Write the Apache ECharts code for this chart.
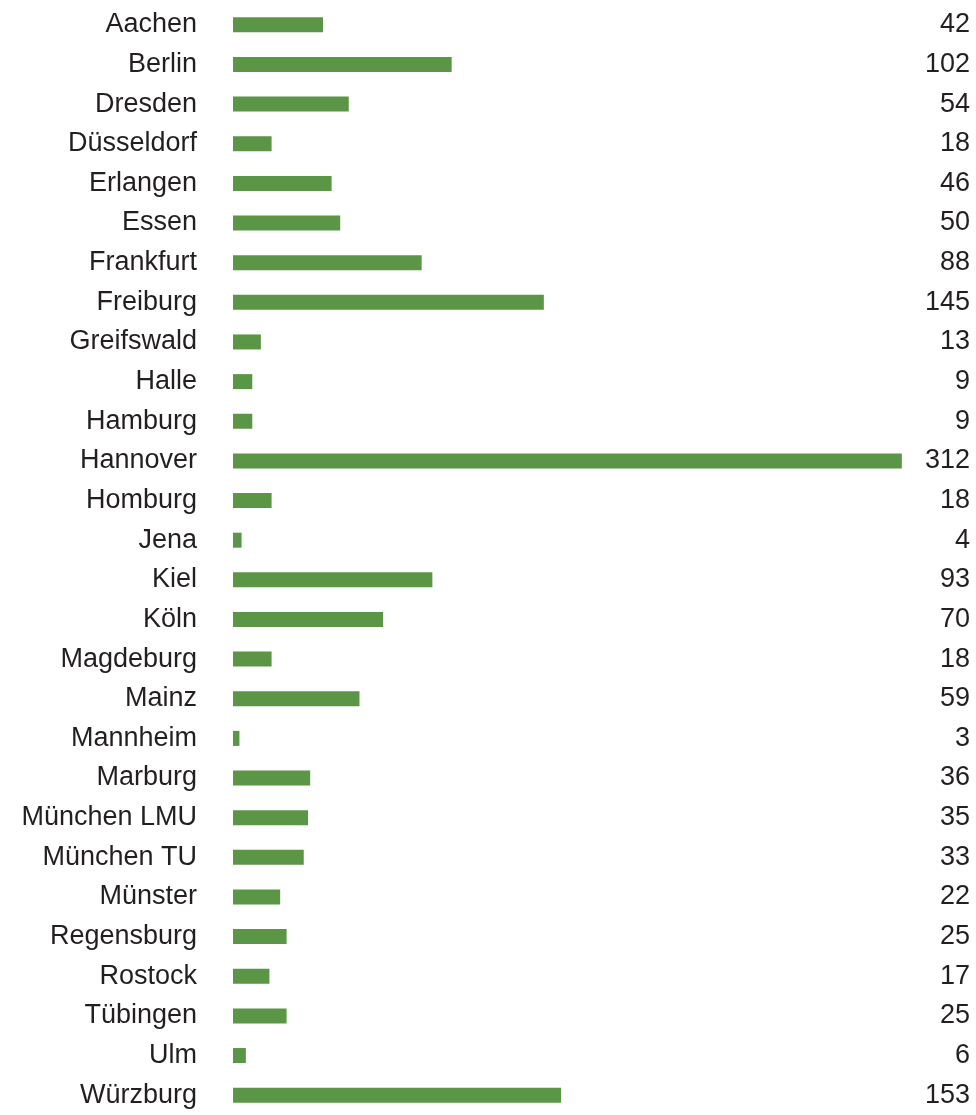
<!DOCTYPE html>
<html>
<head>
<meta charset="utf-8">
<script src="https://cdn.jsdelivr.net/npm/echarts@6/dist/echarts.min.js"></script>
<style>
  html, body { margin: 0; padding: 0; background: #fff; }
  #chart { width: 976px; height: 1115px; }
</style>
</head>
<body>
<div id="chart"></div>
<script>
const cities = [
  "Aachen", "Berlin", "Dresden", "Düsseldorf", "Erlangen", "Essen", "Frankfurt",
  "Freiburg", "Greifswald", "Halle", "Hamburg", "Hannover", "Homburg", "Jena",
  "Kiel", "Köln", "Magdeburg", "Mainz", "Mannheim", "Marburg", "München LMU",
  "München TU", "Münster", "Regensburg", "Rostock", "Tübingen", "Ulm", "Würzburg"
];
const counts = [
  42, 102, 54, 18, 46, 50, 88,
  145, 13, 9, 9, 312, 18, 4,
  93, 70, 18, 59, 3, 36, 35,
  33, 22, 25, 17, 25, 6, 153
];

const chart = echarts.init(document.getElementById("chart"));

const labelStyle = {
  fontFamily: "Liberation Sans, Arial, sans-serif",
  fontSize: 27,
  color: "#231f20",
  padding: [4, 0, 0, 0],
};

chart.setOption({
  animation: false,
  grid: {
    left: 233,
    top: 5,
    width: 686,
    height: 1113,
  },
  xAxis: {
    type: "value",
    min: 0,
    max: 320,
    show: false,
  },
  yAxis: [
    {
      type: "category",
      data: cities,
      inverse: true,
      axisLine: { show: false },
      axisTick: { show: false },
      axisLabel: { ...labelStyle, margin: 36, align: "right" },
    },
    {
      type: "category",
      position: "right",
      data: counts.map(String),
      inverse: true,
      axisLine: { show: false },
      axisTick: { show: false },
      axisLabel: { ...labelStyle, margin: 51, align: "right" },
    }
  ],
  series: [
    {
      type: "bar",
      data: counts,
      barWidth: 15,
      itemStyle: { color: "#5a9645" },
      silent: true,
    }
  ],
});
</script>
</body>
</html>
